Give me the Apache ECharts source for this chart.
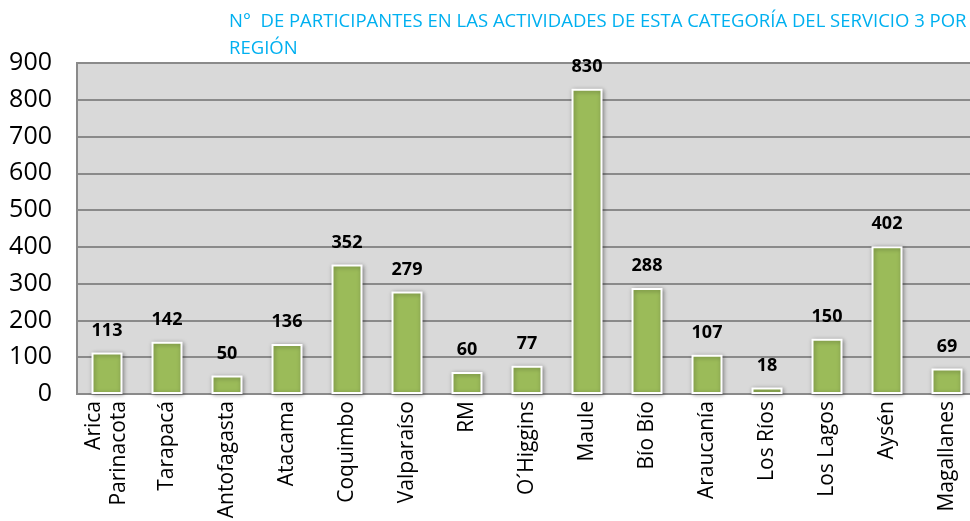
<!DOCTYPE html>
<html>
<head>
<meta charset="utf-8">
<script src="https://cdn.jsdelivr.net/npm/echarts@6/dist/echarts.min.js"></script>
<style>
  html, body { margin: 0; padding: 0; background: #fff; }
  #main { width: 970px; height: 521px; }
</style>
</head>
<body>
<div id="main"></div>
<script>
// regiones y participantes
const regiones = ['Arica\nParinacota', 'Tarapacá', 'Antofagasta', 'Atacama', 'Coquimbo', 'Valparaíso', 'RM',
  'O´Higgins', 'Maule', 'Bío Bío', 'Araucanía', 'Los Ríos', 'Los Lagos', 'Aysén', 'Magallanes']
const participantes = [113, 142, 50, 136, 352, 279, 60, 77, 830, 288, 107, 18, 150, 402, 69]
const yTicks = [0, 100, 200, 300, 400, 500, 600, 700, 800, 900]
const titulo = 'N°  DE PARTICIPANTES EN LAS ACTIVIDADES DE ESTA CATEGORÍA DEL SERVICIO 3 POR\nREGIÓN'

const font = 'Open Sans, Noto Sans, sans-serif'
const myChart = echarts.init(document.getElementById('main'))
const option = {
  animation: false,
  title: {
    text: titulo,
    left: 224,
    top: 3,
    textStyle: {
      color: '#00b0f0',
      fontSize: 18.5,
      fontWeight: 'normal',
      fontFamily: font,
      lineHeight: 27
    }
  },
  grid: {
    left: 77,
    top: 63,
    width: 900,
    height: 331,
    outerBoundsMode: 'none',
    containLabel: false,
    show: true,
    backgroundColor: '#d9d9d9',
    borderColor: '#8a8a8a',
    borderWidth: 2
  },
  xAxis: {
    type: 'category',
    data: regiones,
    axisLine: { show: true, lineStyle: { color: '#8a8a8a', width: 2 } },
    axisTick: { show: false },
    axisLabel: {
      rotate: 90,
      interval: 0,
      color: '#000',
      fontSize: 21,
      fontFamily: font,
      lineHeight: 25,
      margin: 7
    }
  },
  yAxis: {
    type: 'value',
    min: 0,
    max: 900,
    interval: 100,
    axisLine: { show: false },
    axisTick: { show: false },
    axisLabel: {
      color: '#000',
      fontSize: 25,
      fontFamily: font,
      margin: 25,
      formatter: (v) => yTicks.includes(v) ? String(v) : ''
    },
    splitLine: { lineStyle: { color: '#8a8a8a', width: 2 } }
  },
  series: [
    {
      type: 'bar',
      data: participantes,
      barWidth: 31,
      itemStyle: {
        color: '#9bbb59',
        borderColor: '#ffffff',
        borderWidth: 2,
        shadowColor: 'rgba(0,0,0,0.35)',
        shadowBlur: 4,
        shadowOffsetX: 1,
        shadowOffsetY: 1
      },
      label: {
        show: true,
        position: 'top',
        distance: 13,
        color: '#000',
        fontSize: 18,
        fontWeight: 'bold',
        fontFamily: font
      }
    }
  ]
}
myChart.setOption(option)
</script>
</body>
</html>
